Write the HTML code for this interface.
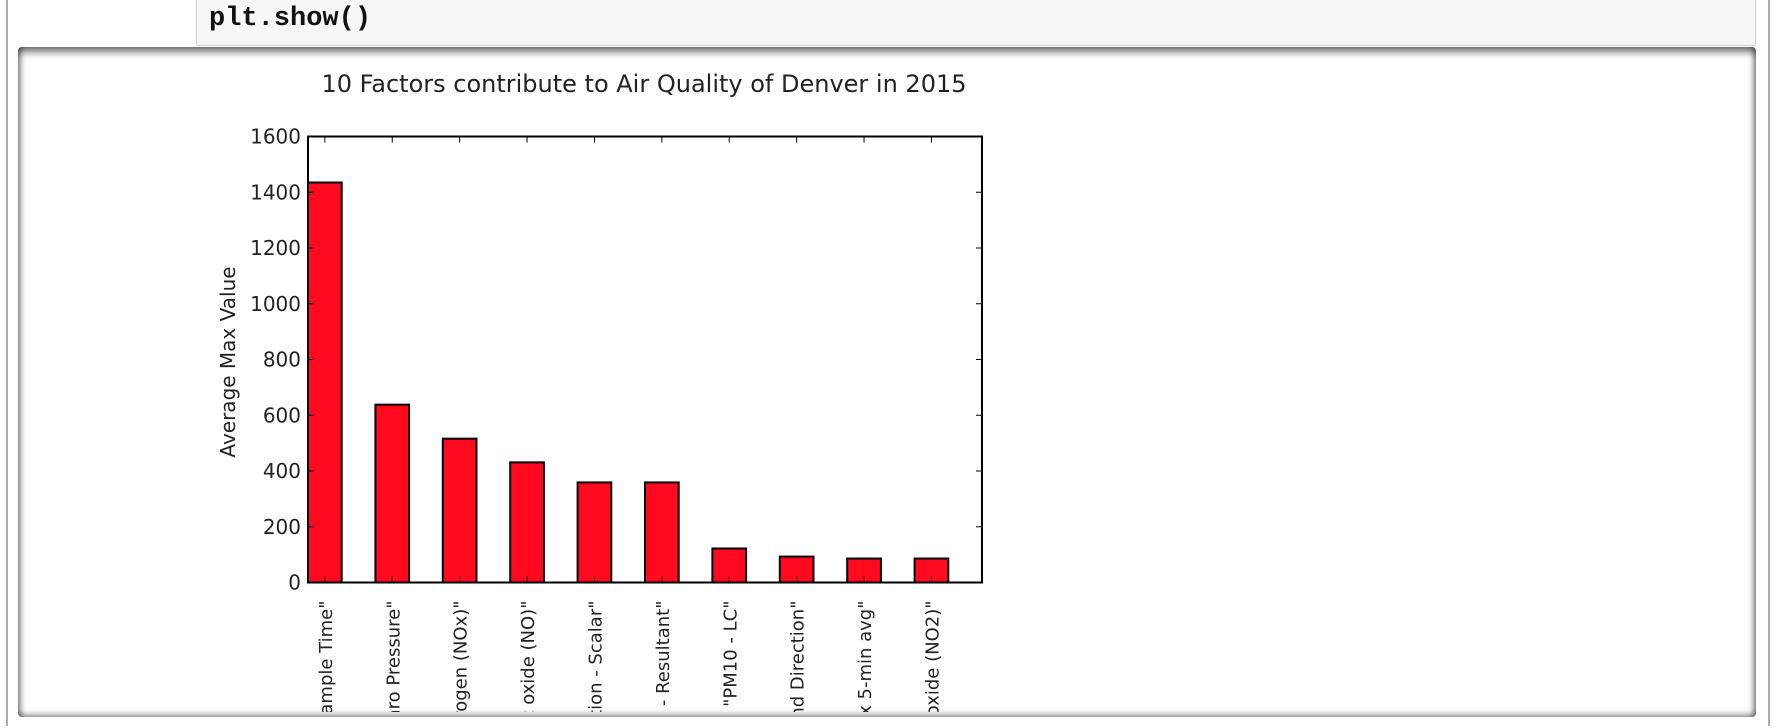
<!DOCTYPE html>
<html><head><meta charset="utf-8"><style>
html,body{margin:0;padding:0;background:#fff;width:1786px;height:728px;overflow:hidden;font-family:"DejaVu Sans","Liberation Sans",sans-serif;}
#outer{position:absolute;left:6px;top:0;width:1760px;height:726px;border-left:2px solid #ababab;border-right:2px solid #ababab;}
#code{position:absolute;left:196px;top:0;width:1558px;height:45px;background:#f7f7f7;border:1px solid #cfcfcf;border-top:none;border-radius:0 0 3px 3px;}
#code span{position:absolute;left:12px;top:4px;font-family:"Liberation Mono",monospace;font-size:27px;font-weight:bold;color:#111;}
#out{position:absolute;left:18px;top:47px;width:1738px;height:670px;background:#fff;border-radius:4px;overflow:hidden;box-shadow:inset 0 8px 8px -3px rgba(0,0,0,0.55),inset 6px 0 6px -3px rgba(0,0,0,0.4),inset -6px 0 6px -3px rgba(0,0,0,0.4),inset 0 -6px 6px -3px rgba(0,0,0,0.35);}
svg{position:absolute;left:-18px;top:-47px;overflow:hidden;}
</style></head><body>
<div id="outer"></div>
<div id="code"><span>plt.show()</span></div>
<div id="out">
<svg id="chart" width="1774" height="712">
<text x="644" y="92" font-size="24" text-anchor="middle" fill="#222">10 Factors contribute to Air Quality of Denver in 2015</text>
<text transform="translate(235,362) rotate(-90)" font-size="20" text-anchor="middle" fill="#222">Average Max Value</text>
<g id="bars"></g><g id="axes"></g>
</svg>
</div>
<script>
const categories=['"Sample Time"','"Baro Pressure"','"Oxides of nitrogen (NOx)"','"Nitric oxide (NO)"','"Wind Direction - Scalar"','"Wind Speed - Resultant"','"PM10 - LC"','"Wind Direction"','"Max 5-min avg"','"Nitrogen dioxide (NO2)"'];
const values=[1435,638,516,431,359,359,122,93,86,86];
const yTicks=[0,200,400,600,800,1000,1200,1400,1600];
const NS='http://www.w3.org/2000/svg';
const L=308,R=982,T=136.5,B=582.5,yMax=1600,xMin=-0.25,xMax=9.75;
const xs=v=>L+(v-xMin)/(xMax-xMin)*(R-L);
const ys=v=>B-v/yMax*(B-T);
function mk(tag,attrs,parent){const e=document.createElementNS(NS,tag);for(const k in attrs)e.setAttribute(k,attrs[k]);parent.appendChild(e);return e;}
const gb=document.getElementById('bars'),ga=document.getElementById('axes');
values.forEach((v,i)=>{
  const r=mk('rect',{x:xs(i-0.25),y:ys(v),width:xs(i+0.25)-xs(i-0.25),height:ys(0)-ys(v),fill:'#ff0a1e',stroke:'#000','stroke-width':2},gb);
  
  
});
mk('rect',{x:L,y:T,width:R-L,height:B-T,fill:'none',stroke:'#000','stroke-width':2},ga);
yTicks.forEach(t=>{
  const y=ys(t);
  mk('line',{x1:L,x2:L+6,y1:y,y2:y,stroke:'#000'},ga);
  mk('line',{x1:R-6,x2:R,y1:y,y2:y,stroke:'#000'},ga);
  const tx=mk('text',{x:L-7,y:y+7,'font-size':20,'text-anchor':'end',fill:'#222'},ga);
  tx.textContent=t;
  
  
});
categories.forEach((c,i)=>{
  const x=xs(i);
  mk('line',{x1:x,x2:x,y1:T,y2:T+6,stroke:'#000'},ga);
  mk('line',{x1:x,x2:x,y1:B-6,y2:B,stroke:'#000'},ga);
  const tx=mk('text',{transform:`translate(${x+7},${B+18}) rotate(-90)`,'font-size':18,'text-anchor':'end',fill:'#222'},ga);
  tx.textContent=c;
  
  
});
</script>
</body></html>
